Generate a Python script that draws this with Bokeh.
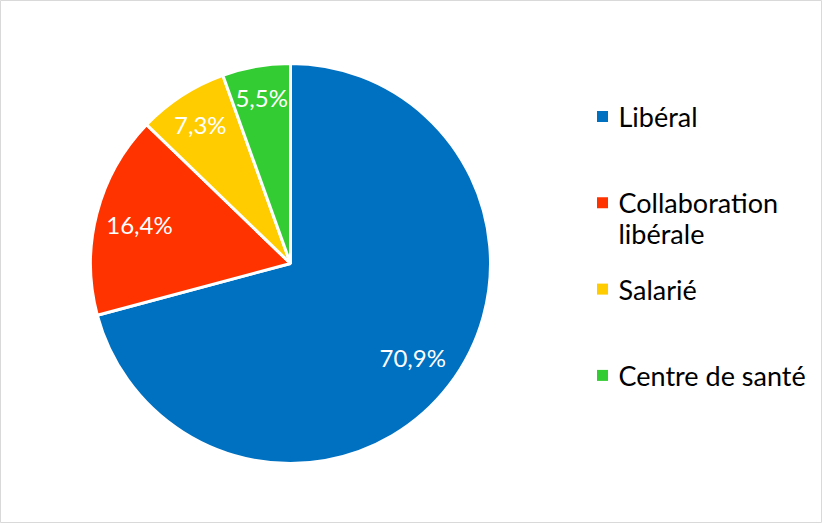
import math
from bokeh.plotting import figure
from bokeh.models import Range1d, ColumnDataSource
from bokeh.core.properties import value
from bokeh.embed import file_html
from bokeh.resources import INLINE

categories = ["Libéral", "Collaboration libérale", "Salarié", "Centre de santé"]
legend_labels = ["Libéral", "Collaboration\nlibérale", "Salarié", "Centre de santé"]
shares = [70.9, 16.4, 7.3, 5.5]
pct_labels = ["70,9%", "16,4%", "7,3%", "5,5%"]
colors = ["#0070C0", "#FF3300", "#FFCC00", "#33CC33"]

W, H = 822, 523
CX, CY, R = 290, 260, 200
label_frac = [0.77, 0.78, 0.83, 0.84]
FONT = "Lato"
LEG_FS = 27
LEG_LH = 0.93
LINE_STEP = 30

p = figure(width=W, height=H, output_backend="svg", toolbar_location=None,
           x_range=Range1d(0, W), y_range=Range1d(0, H), min_border=0)
p.axis.visible = False
p.grid.visible = False
p.outline_line_color = "#D9D9D9"
p.outline_line_width = 1
p.background_fill_color = "white"
p.border_fill_color = "white"

total = sum(shares)
starts, ends, lx, ly = [], [], [], []
a = math.pi / 2
for i, s in enumerate(shares):
    sweep = s / total * 2 * math.pi
    starts.append(a)
    ends.append(a - sweep)
    mid = a - sweep / 2
    lx.append(CX + label_frac[i] * R * math.cos(mid))
    ly.append(CY + label_frac[i] * R * math.sin(mid))
    a -= sweep

src = ColumnDataSource(dict(start=starts, end=ends, color=colors, cat=categories,
                            lx=lx, ly=ly, pct=pct_labels))
p.wedge(x=CX, y=CY, radius=R, start_angle="start", end_angle="end", direction="clock",
        fill_color="color", line_color="white", line_width=3, source=src)
p.text(x="lx", y="ly", text="pct", source=src, text_color="white",
       text_font=value(FONT), text_font_size="24px", text_align="center",
       text_baseline="middle")

# legend
top = H - (124 - 8)
ys, tys = [], []
for i, lab in enumerate(legend_labels):
    y = top - i * 86.3
    ys.append(y)
    n = lab.count("\n") + 1
    tys.append(y - (n - 1) * LINE_STEP / 2)
lsrc = ColumnDataSource(dict(x=[602] * 4, y=ys, ty=tys, color=colors, lab=legend_labels,
                             tx=[618] * 4))
p.scatter(x="x", y="y", marker="square", size=11, fill_color="color", line_color=None,
          source=lsrc)
p.text(x="tx", y="ty", text="lab", source=lsrc, text_color="black",
       text_font=value(FONT), text_font_size=f"{LEG_FS}px", text_align="left",
       text_baseline="middle", text_line_height=LEG_LH)

open("out.html", "w").write(file_html(p, INLINE))
